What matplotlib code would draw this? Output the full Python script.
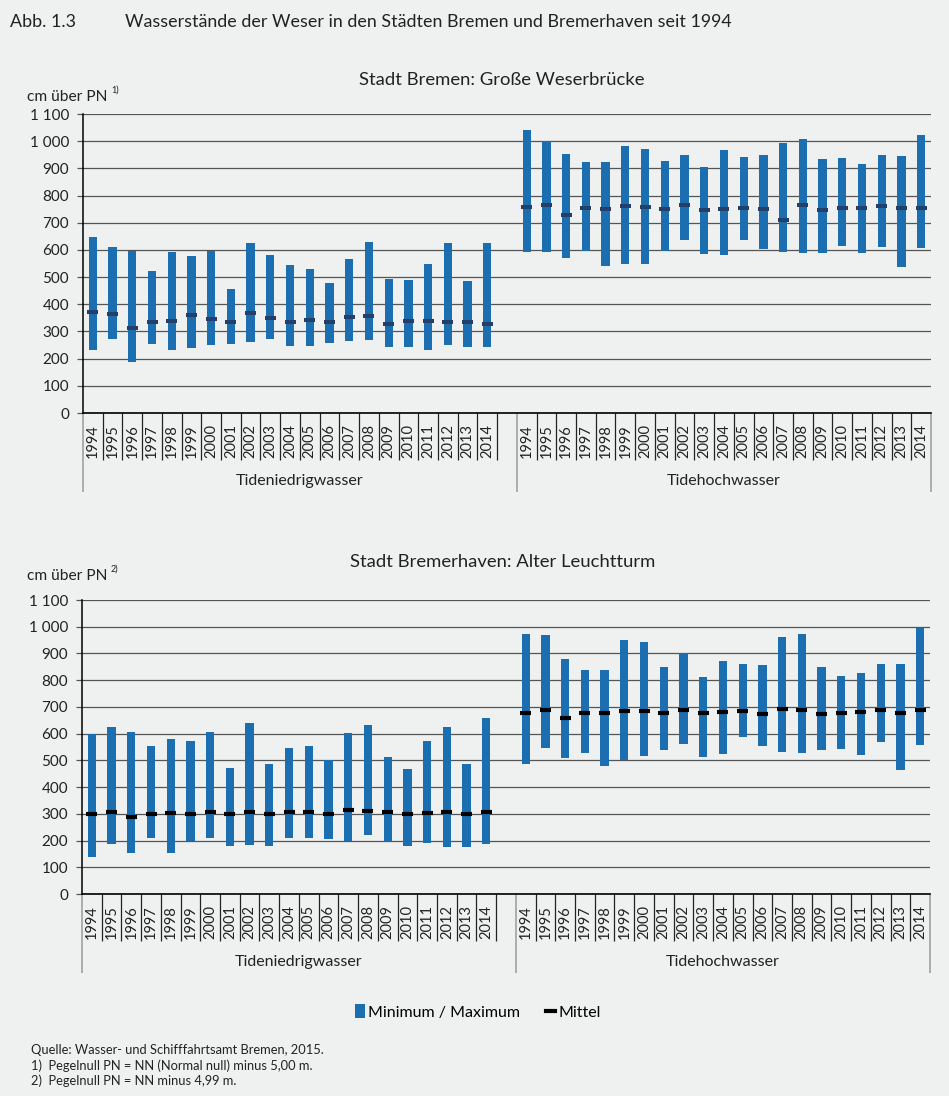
import matplotlib
matplotlib.use("Agg")
import matplotlib.pyplot as plt
from matplotlib.patches import Patch
from matplotlib.lines import Line2D
from matplotlib.ticker import FuncFormatter
# ----------------------------------------------------------------------------------------

# data (cm über PN)
years = [str(y) for y in range(1994, 2015)]
groups = ["Tideniedrigwasser", "Tidehochwasser"]

# Bremen, Große Weserbrücke
bremen_tnw_min = [230, 271, 188, 255, 232, 238, 250, 254, 260, 274, 248, 248, 259, 266, 270, 241, 243, 233, 250, 241, 244]
bremen_tnw_max = [647, 611, 597, 521, 592, 578, 595, 458, 627, 583, 543, 529, 478, 567, 630, 494, 489, 548, 624, 485, 627]
bremen_tnw_mean = [370, 363, 311, 335, 340, 360, 344, 336, 368, 350, 336, 343, 333, 352, 358, 328, 339, 338, 334, 336, 328]
bremen_thw_min = [593, 591, 570, 597, 541, 550, 549, 597, 635, 584, 582, 637, 603, 592, 587, 589, 615, 587, 609, 537, 608]
bremen_thw_max = [1042, 1001, 953, 922, 923, 982, 972, 927, 951, 904, 966, 943, 948, 992, 1007, 933, 937, 917, 950, 944, 1023]
bremen_thw_mean = [759, 766, 728, 753, 751, 762, 757, 750, 767, 746, 751, 756, 749, 711, 765, 746, 754, 756, 762, 753, 756]

# Bremerhaven, Alter Leuchtturm
bhv_tnw_min = [138, 186, 154, 209, 153, 198, 211, 179, 183, 178, 211, 209, 206, 198, 222, 193, 181, 191, 176, 174, 187]
bhv_tnw_max = [599, 623, 607, 553, 581, 573, 607, 473, 639, 487, 548, 552, 500, 602, 634, 513, 467, 573, 625, 487, 658]
bhv_tnw_mean = [300, 308, 289, 300, 304, 300, 308, 301, 306, 300, 308, 306, 300, 315, 311, 305, 300, 304, 306, 298, 305]
bhv_thw_min = [485, 546, 510, 529, 478, 500, 518, 537, 562, 511, 524, 586, 554, 532, 526, 537, 543, 521, 567, 463, 559]
bhv_thw_max = [973, 970, 881, 837, 838, 952, 942, 850, 902, 812, 873, 861, 855, 963, 972, 848, 817, 828, 860, 862, 997]
bhv_thw_mean = [679, 688, 659, 679, 678, 685, 685, 678, 688, 676, 680, 683, 675, 693, 688, 675, 678, 681, 688, 678, 688]

BG = "#eff0f0"
BLUE = "#1b6fb0"
GRID = "#555555"
FONT = "Lato"
plt.rcParams["font.family"] = [FONT, "DejaVu Sans"]
# ----------------------------------------------------------------------------------------

# function for one panel (two groups of min/max bars with mean marks)
def range_panel(fig, rect, lo_min, lo_max, lo_mean, hi_min, hi_max, hi_mean, mean_color, mean_lw):

    ax = fig.add_axes(rect)
    ax.set_facecolor(BG)
    n = len(years)
    x_lo = list(range(n))
    x_hi = [n + 1 + i for i in range(n)]

    # bars and mean marks
    for xs, mn, mx, me in [(x_lo, lo_min, lo_max, lo_mean), (x_hi, hi_min, hi_max, hi_mean)]:
        ax.bar(xs, [b - a for a, b in zip(mn, mx)], bottom=mn, width=0.42, color=BLUE, zorder=3)
        ax.hlines(me, [x - 0.28 for x in xs], [x + 0.28 for x in xs], color=mean_color, linewidth=mean_lw, zorder=4)

    # y axis
    ax.set_xlim(-0.5, 2 * n + 0.5)
    ax.set_ylim(0, 1100)
    ax.set_yticks(range(0, 1101, 100))
    ax.yaxis.set_major_formatter(FuncFormatter(lambda v, p: f"{int(v):,}".replace(",", " ")))
    ax.tick_params(axis="y", length=4, width=0.9, color=GRID, labelsize=11, labelcolor="#222222", pad=6)
    ax.grid(True, axis="y", color=GRID, linewidth=0.9)
    ax.set_axisbelow(True)
    ax.set_xticks([])
    for s in ["top", "right"]:
        ax.spines[s].set_visible(False)
    ax.spines["left"].set_linewidth(1.1)
    ax.spines["bottom"].set_linewidth(1.2)

    # category axis: year labels, separators, group labels
    h_px = rect[3] * fig.get_figheight() * fig.dpi
    short_y = -47 / h_px
    long_y = -79 / h_px
    trans = ax.get_xaxis_transform()
    for xs in [x_lo, x_hi]:
        for x, yr in zip(xs, years):
            ax.annotate(yr, xy=(x, 0), xycoords=trans, xytext=(0, -8), textcoords="offset points",
                        rotation=90, ha="center", va="top", fontsize=10.5, color="#222222")
    short_x = [x + 0.5 for x in x_lo] + [x + 0.5 for x in x_hi[:-1]]
    ax.vlines(short_x, short_y, 0, transform=trans, color="#222222", linewidth=0.9, clip_on=False)
    ax.vlines([-0.5, n + 0.5, 2 * n + 0.5], long_y, 0, transform=trans, color="#9a9a9a", linewidth=1.1, clip_on=False)
    ax.text(n / 2, -68 / h_px, groups[0], transform=trans, ha="center", va="center", fontsize=11.5, color="#222222")
    ax.text(n + 1 + (n - 1) / 2, -68 / h_px, groups[1], transform=trans, ha="center", va="center", fontsize=11.5, color="#222222")
    return ax
# ----------------------------------------------------------------------------------------

fig = plt.figure(figsize=(9.49, 10.96), dpi=100, facecolor=BG)
W, H = 949, 1096

# header
fig.text(10 / W, 1 - 22 / H, "Abb. 1.3", fontsize=12.9, va="center", color="#222222")
fig.text(125 / W, 1 - 22 / H, "Wasserstände der Weser in den Städten Bremen und Bremerhaven seit 1994",
         fontsize=12.9, va="center", color="#222222")

# panel Bremen
range_panel(fig, [83 / W, 1 - 413 / H, 848 / W, 299 / H],
            bremen_tnw_min, bremen_tnw_max, bremen_tnw_mean,
            bremen_thw_min, bremen_thw_max, bremen_thw_mean, "#263f68", 2.9)
fig.text(502 / W, 1 - 80 / H, "Stadt Bremen: Große Weserbrücke", fontsize=13.3, ha="center", va="center", color="#222222")
fig.text(27 / W, 1 - 97 / H, "cm über PN", fontsize=11.2, va="center", color="#222222")
fig.text(111 / W, 1 - 90 / H, "1)", fontsize=6.5, va="center", color="#222222")

# panel Bremerhaven
range_panel(fig, [82 / W, 1 - 894 / H, 848 / W, 294 / H],
            bhv_tnw_min, bhv_tnw_max, bhv_tnw_mean,
            bhv_thw_min, bhv_thw_max, bhv_thw_mean, "black", 3.0)
fig.text(503 / W, 1 - 562 / H, "Stadt Bremerhaven: Alter Leuchtturm", fontsize=13.3, ha="center", va="center", color="#222222")
fig.text(27 / W, 1 - 576 / H, "cm über PN", fontsize=11.2, va="center", color="#222222")
fig.text(111 / W, 1 - 569 / H, "2)", fontsize=6.5, va="center", color="#222222")

# legend
handles = [Patch(facecolor=BLUE, edgecolor="none"), Line2D([], [], color="black", linewidth=3)]
fig.legend(handles, ["Minimum / Maximum", "Mittel"], loc="center", bbox_to_anchor=(478 / W, 1 - 1012 / H),
           ncol=2, frameon=False, fontsize=11.5, handlelength=0.6, handleheight=1.0, handletextpad=0.2,
           columnspacing=1.6)

# footnotes
notes = ["Quelle: Wasser- und Schifffahrtsamt Bremen, 2015.",
         "1)  Pegelnull PN = NN (Normal null) minus 5,00 m.",
         "2)  Pegelnull PN = NN minus 4,99 m."]
for i, t in enumerate(notes):
    fig.text(31 / W, 1 - (1050 + 15.5 * i) / H, t, fontsize=9.3, va="center", color="#222222")

fig.savefig("out.png", dpi=100, facecolor=BG)
